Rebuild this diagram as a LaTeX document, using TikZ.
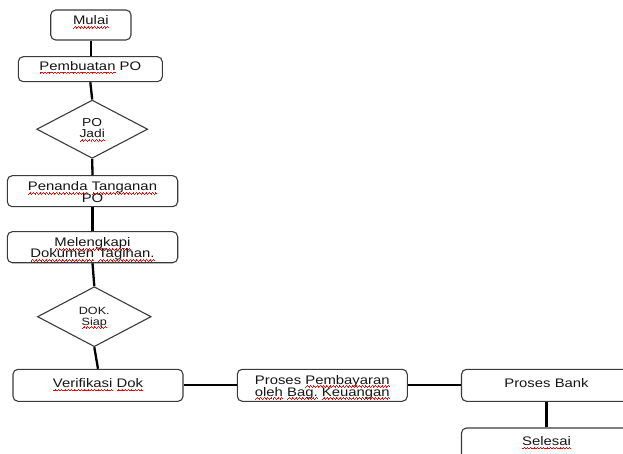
\documentclass[tikz,border=0pt]{standalone}
\usepackage{fontspec}
\setmainfont{Liberation Sans}[FakeStretch=1.2]
\usetikzlibrary{shapes.geometric}
\newsavebox\wordbox
\newcommand\wvpiece{\hbox{\rule[-3.6pt]{.8pt}{.7pt}\rule[-2.8pt]{.8pt}{.7pt}\rule[-2.0pt]{.8pt}{.7pt}\rule[-2.8pt]{.8pt}{.7pt}}}
\newcommand\rw[1]{\sbox\wordbox{#1}\rlap{\color{red}\hbox to\wd\wordbox{\xleaders\wvpiece\hfil}}\usebox\wordbox}
\newcommand\twol[3]{\makebox[0pt]{#1}\raisebox{-#3}[0pt][0pt]{\makebox[0pt]{#2}}}
\definecolor{boxc}{HTML}{3A3A3A}
\definecolor{txtc}{HTML}{151515}
\begin{document}
\begin{tikzpicture}[x=1pt,y=-1pt,
 box/.style={draw=boxc,line width=1.1pt,rounded corners=5pt,inner sep=0pt,anchor=base,text=txtc,font=\fontsize{12.4}{14}\selectfont},
 dia/.style={draw=boxc,line width=1.1pt,shape=diamond,inner sep=0pt,anchor=center,text=txtc},
 vline/.style={line width=2.3pt,black},
 hline/.style={line width=1.9pt,black}]
\useasboundingbox (0,0) rectangle (623,454);
\clip (0,0) rectangle (623,454);

\node[box,minimum width=80.3pt,text height=15pt,text depth=15pt] (mulai) at (90.85,25) {\rw{Mulai}};
\node[box,minimum width=144pt,text height=13.6pt,text depth=11.4pt] (pemb) at (90.3,70.3) {\rw{Pembuatan} PO};
\node[dia,minimum width=111pt,minimum height=58.3pt,font=\fontsize{11.5}{13}\selectfont,text height=10pt,text depth=14.4pt] (d1) at (92.2,129.2) {\twol{PO}{\rw{Jadi}}{11pt}};
\node[box,minimum width=170.4pt,text height=15pt,text depth=16pt] (pen) at (92.5,190.7) {\twol{\rw{Penanda} \rw{Tanganan}}{PO}{11.6pt}};
\node[box,minimum width=170.4pt,text height=15pt,text depth=16pt] (mel) at (92.5,246.7) {\twol{\rw{Melengkapi}}{\rw{Dokumen} \rw{Tagihan.}}{11pt}};
\node[dia,minimum width=113.7pt,minimum height=60pt,font=\fontsize{10.5}{12}\selectfont,text height=10pt,text depth=15.4pt] (d2) at (94.3,316.7) {\twol{DOK.}{\rw{Siap}}{11pt}};
\node[box,minimum width=170pt,text height=18.2pt,text depth=13.8pt] (ver) at (98,387.5) {\rw{Verifikasi} \rw{Dok}};
\node[box,minimum width=170pt,text height=14.7pt,text depth=17.3pt] (pay) at (322.3,384) {\twol{Proses \rw{Pembayaran}}{\rw{oleh} \rw{Bag.} \rw{Keuangan}}{12pt}};
\node[box,minimum width=170pt,text height=18.4pt,text depth=13.6pt] (bank) at (546.5,387.7) {Proses Bank};
\node[box,minimum width=170pt,text height=17.5pt,text depth=20pt] (sel) at (546.5,445.5) {\rw{Selesai}};

\draw[vline] (mulai.south) -- (mulai.south |- pemb.north);
\draw[vline] (pemb.south) -- (d1.north);
\draw[vline] (d1.south) -- (pen.north);
\draw[vline] (pen.south) -- (mel.north);
\draw[vline] (mel.south) -- (d2.north);
\draw[vline] (d2.south) -- (ver.north);
\draw[hline] (ver.east) -- (pay.west);
\draw[hline] (pay.east) -- (bank.west);
\draw[vline] (bank.south) -- (sel.north);
\end{tikzpicture}
\end{document}
